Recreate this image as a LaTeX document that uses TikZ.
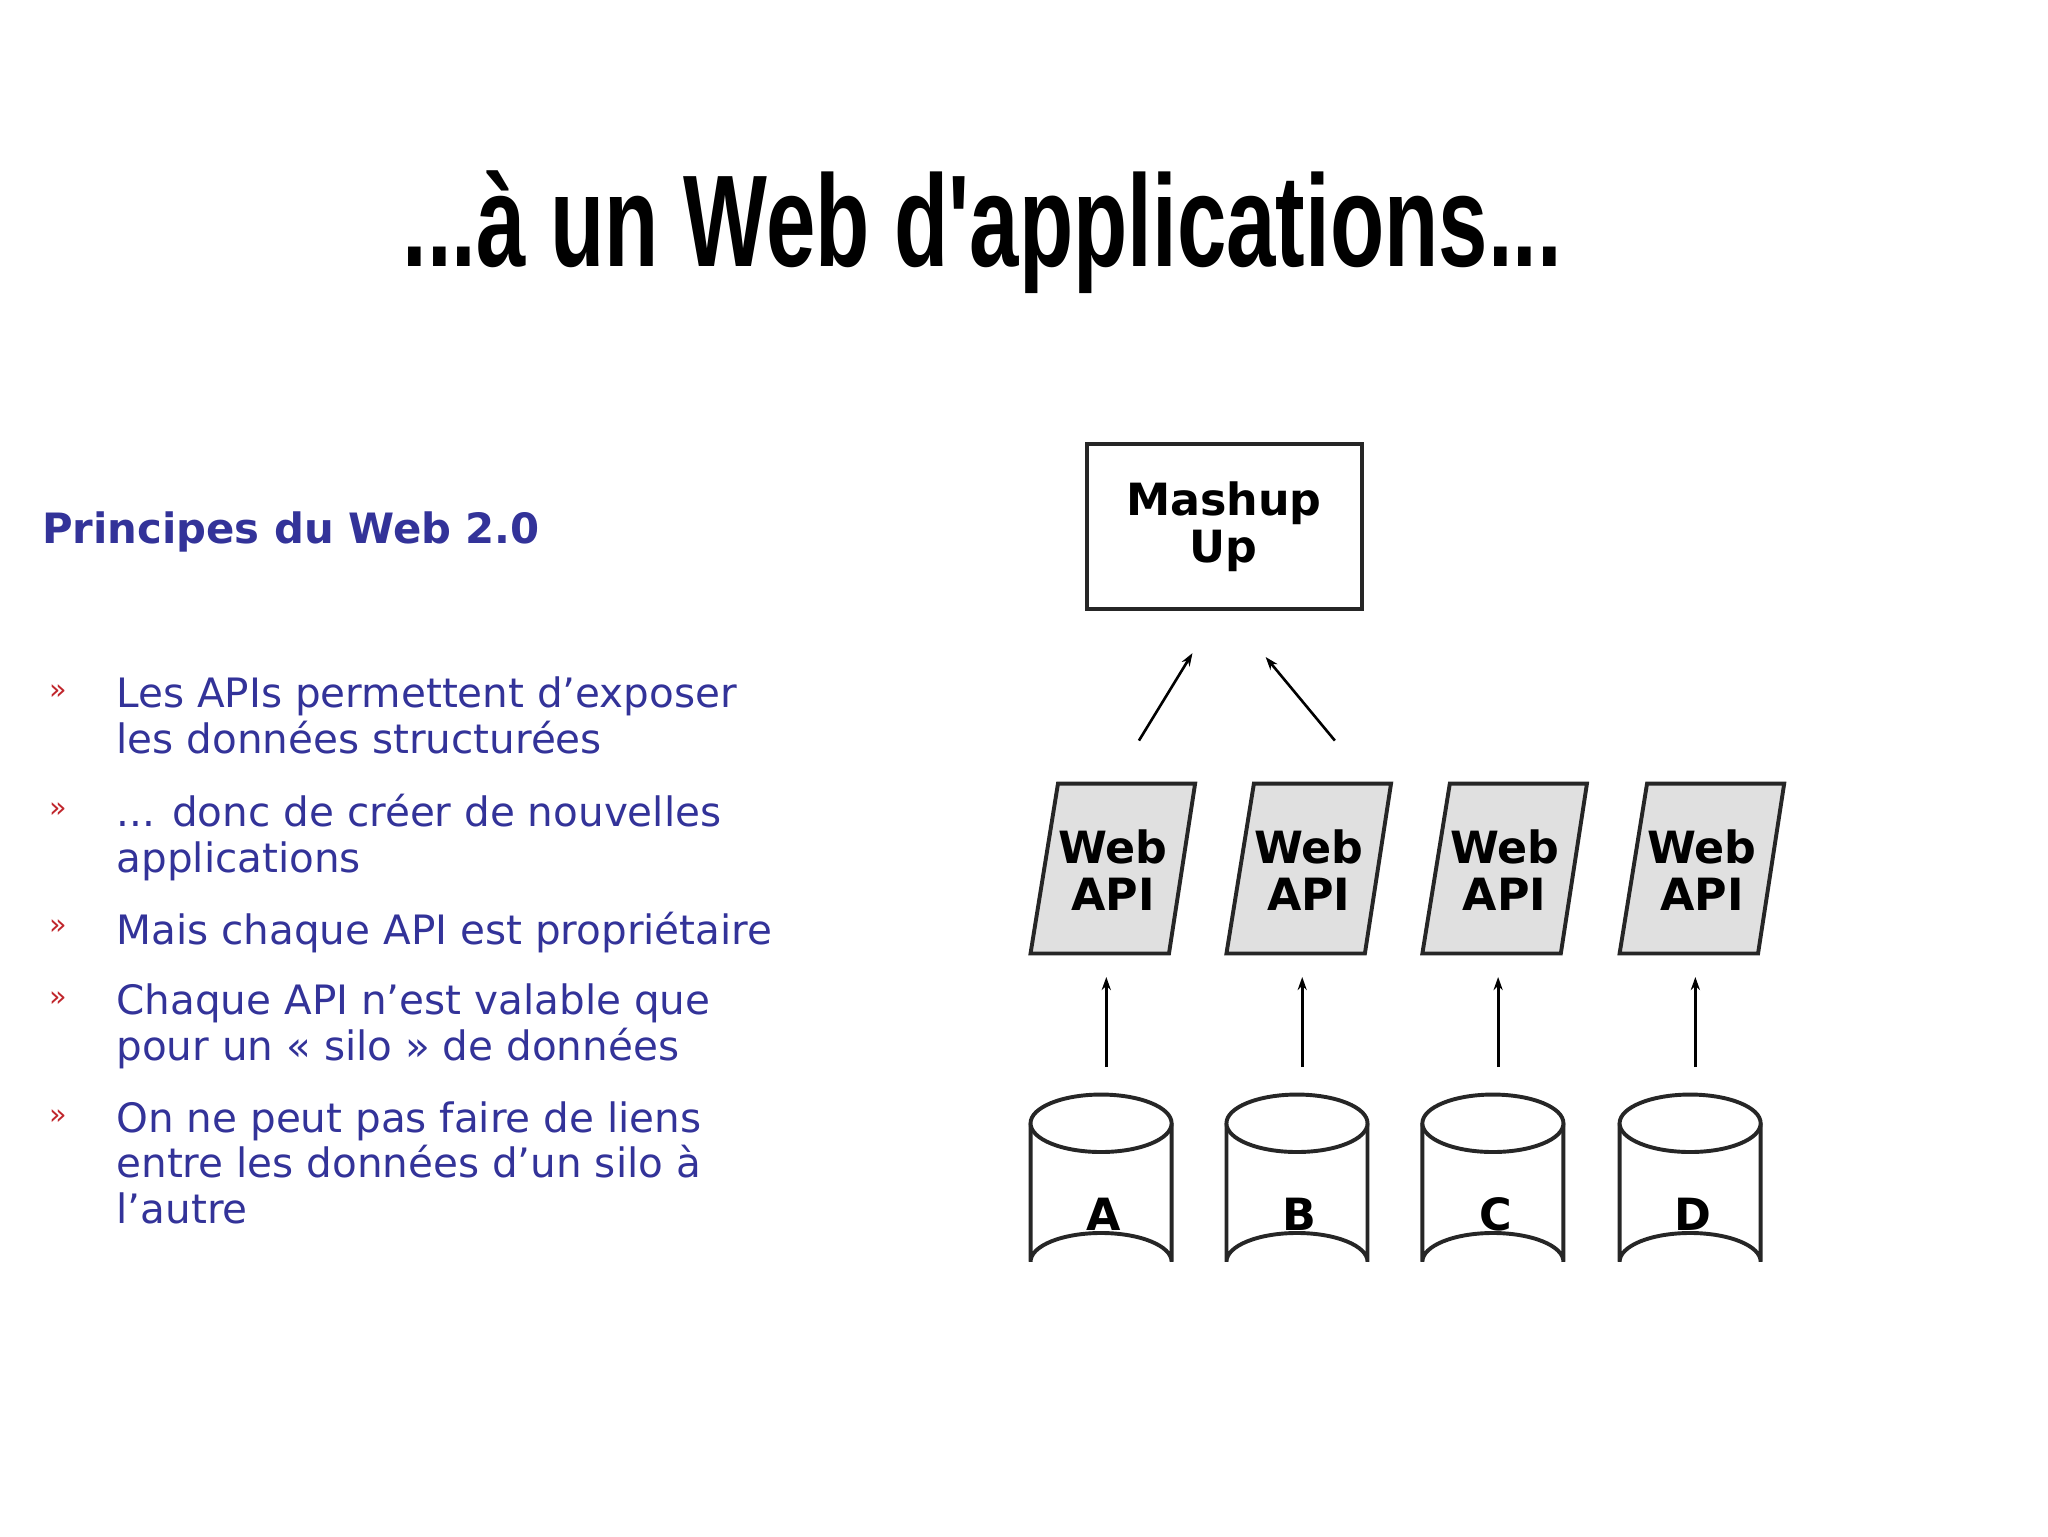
\documentclass[tikz,border=0pt]{standalone}
\usepackage{fontspec}
\setmainfont{DejaVu Sans}
\newfontfamily\titlefont{Liberation Sans}
\usetikzlibrary{arrows.meta}
\definecolor{bl}{HTML}{333399}
\definecolor{rd}{HTML}{C0262C}
\begin{document}
\begin{tikzpicture}[x=1pt,y=-1pt,
  lab/.style={font=\fontsize{34}{36}\selectfont\bfseries,align=center,inner sep=0},
  bul/.style={font=\fontsize{31}{35}\selectfont,text=bl,anchor=north west,align=left,inner sep=0},
  mk/.style={font=\fontsize{22}{22}\selectfont,text=rd,anchor=north west,inner sep=0},
  arr/.style={line width=2.5pt,-{Stealth[length=10pt,width=7pt]}},
  shp/.style={line width=3pt,draw=black!85}]
\useasboundingbox (0,0) rectangle (1568,1176);
\node[font=\titlefont\fontsize{100}{100}\selectfont\bfseries,xscale=0.68,inner sep=0] (title) at (752,178) {...à un Web d'applications...};
\node[font=\fontsize{32}{34}\selectfont\bfseries,text=bl,anchor=west,inner sep=0] (head) at (32,407) {Principes du Web 2.0};
\foreach \y/\t [count=\i] in {518/{Les APIs permettent d'exposer\\les données structurées},
  608/{... donc de créer de nouvelles\\applications},
  698/{Mais chaque API est propriétaire},
  753/{Chaque API n'est valable que\\pour un « silo » de données},
  843/{On ne peut pas faire de liens\\entre les données d'un silo à\\l'autre}}{
  \node[mk] (m\i) at (38,\y+6) {»};
  \node[bul] (b\i) at (89,\y) {\t};
}
\draw[shp] (832,340) rectangle (1043,466);
\node[lab] (mash) at (937,403) {Mashup\\Up};
\foreach \dx/\l [count=\i] in {0/A,150/B,300/C,451/D}{
  \draw[shp,fill=black!12] (810+\dx,600) -- (915+\dx,600) -- (895+\dx,730) -- (789+\dx,730) -- cycle;
  \node[lab] (api\i) at (852+\dx,666) {Web\\API};
  \coordinate (s\i) at (847+\dx,817);
  \coordinate (t\i) at (847+\dx,748);
  \draw[arr] (s\i) -- (t\i);
  \draw[shp,fill=white] (789+\dx,860) -- (789+\dx,966) arc[start angle=180,end angle=360,x radius=54,y radius=22] -- (897+\dx,860);
  \draw[shp,fill=white] (843+\dx,860) ellipse[x radius=54,y radius=22];
  \node[lab] (db\i) at (845+\dx,930) {\l};
}
\coordinate (p1) at (872,567); \coordinate (q1) at (913,500);
\coordinate (p2) at (1022,567); \coordinate (q2) at (969,503);
\draw[arr,line width=2pt] (p1) -- (q1);
\draw[arr,line width=2pt] (p2) -- (q2);
\end{tikzpicture}
\end{document}
